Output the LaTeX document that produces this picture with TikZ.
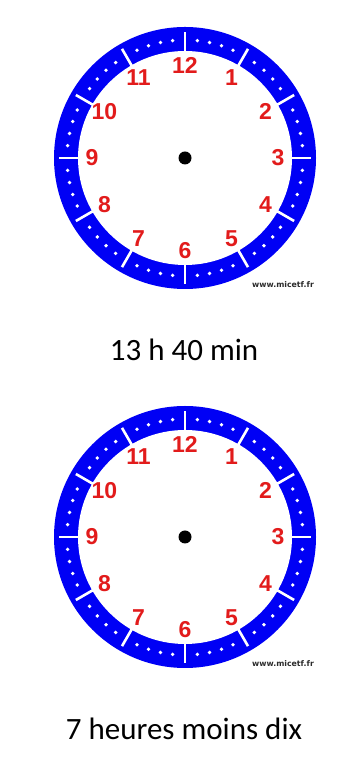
\documentclass[tikz,border=0pt]{standalone}
\usepackage{fontspec}
\setmainfont{Carlito}
\newfontfamily\numfont{Liberation Sans}
\newfontfamily\webfont{DejaVu Sans}
\usepackage{xcolor}
\usetikzlibrary{calc}
\definecolor{ClockBlue}{HTML}{0000F5}
\definecolor{ClockRed}{HTML}{E21B1B}
\definecolor{WebGray}{HTML}{2B2B2B}

\begin{document}
\begin{tikzpicture}[x=1pt,y=1pt,
  num/.style={text=ClockRed,font=\numfont\bfseries\fontsize{23}{23}\selectfont,inner sep=0pt},
  timelabel/.style={font=\fontsize{31}{37}\selectfont,inner sep=0pt},
  web/.style={font=\webfont\bfseries\fontsize{7.8}{9}\selectfont,text=WebGray,inner sep=0pt},
  hourtick/.style={white,line width=2.6pt}]
\useasboundingbox (0,0) rectangle (358,765);
\foreach \k/\cy/\txt in {1/607/13 h 40 min,2/228/7 heures moins dix}{
  \coordinate (c\k) at (185,\cy);
  % blue ring with white face
  \fill[ClockBlue] (c\k) circle[radius=131];
  \fill[white] (c\k) circle[radius=107];
  % hour ticks and minute dots
  \foreach \h in {0,...,11}{
    \draw[hourtick] ($(c\k)+(30*\h:105)$) -- ($(c\k)+(30*\h:126)$);
    \foreach \d in {1,...,4}
      \fill[white] ($(c\k)+(30*\h+6*\d:118)$) circle[radius=1.9];
  }
  \foreach \h in {1,...,12}
    \node[num] (n\k-\h) at ($(c\k)+(90-30*\h:93)$) {\h};
  \fill[black] (c\k) circle[radius=6.5];
  \node[web] (web\k) at (283,\cy-127) {www.micetf.fr};
  \node[timelabel] (lbl\k) at (184,\cy-192) {\txt};
}
\end{tikzpicture}
\end{document}
